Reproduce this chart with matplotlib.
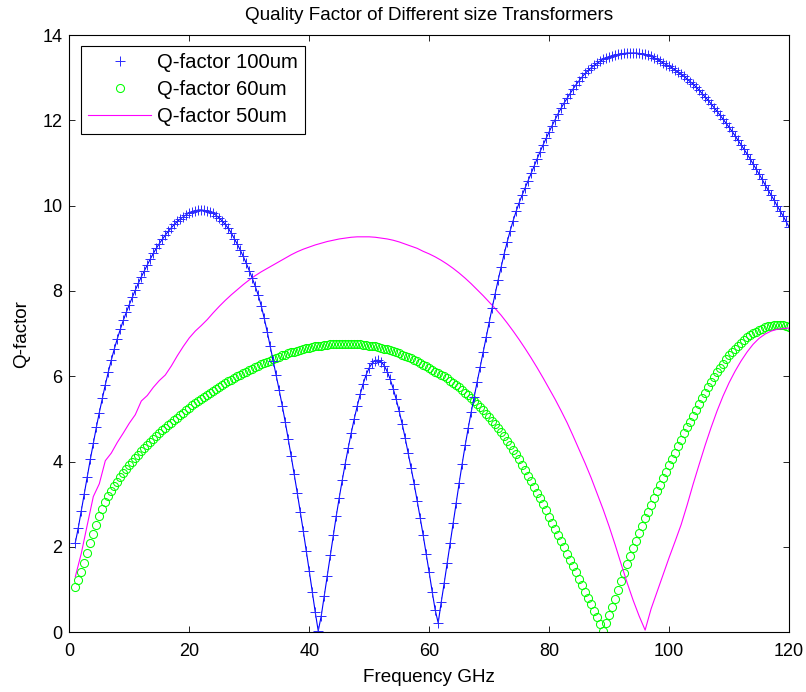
import numpy as np
import matplotlib
matplotlib.use("Agg")
import matplotlib.pyplot as plt

plt.rcParams['font.family'] = ['Liberation Sans', 'DejaVu Sans']

# frequency grid of the two marker series (GHz), 1 .. 120 step 0.5
freq = np.arange(1.0, 120.01, 0.5)
# frequency grid of the line-only series, 1 .. 120 step 1
freq50 = np.arange(1, 121)

q100 = [
    2.10, 2.45, 2.85, 3.25, 3.65, 4.05, 4.43, 4.80, 5.15, 5.48,      # 1.0 - 5.5
    5.80, 6.10, 6.38, 6.64, 6.88, 7.10, 7.31, 7.50, 7.68, 7.85,      # 6.0 - 10.5
    8.02, 8.18, 8.33, 8.47, 8.61, 8.75, 8.88, 9.00, 9.11, 9.21,      # 11 - 15.5
    9.31, 9.40, 9.48, 9.56, 9.63, 9.69, 9.74, 9.79, 9.83, 9.86,      # 16 - 20.5
    9.88, 9.90, 9.90, 9.89, 9.87, 9.85, 9.82, 9.77, 9.71, 9.64,      # 21 - 25.5
    9.56, 9.47, 9.36, 9.23, 9.10, 8.96, 8.81, 8.65, 8.48, 8.30,      # 26 - 30.5
    8.11, 7.90, 7.65, 7.36, 7.04, 6.70, 6.36, 6.02, 5.67, 5.31,      # 31 - 35.5
    4.93, 4.53, 4.12, 3.70, 3.27, 2.83, 2.38, 1.91, 1.44, 0.95,      # 36 - 40.5
    0.47, 0.03, 0.38, 0.85, 1.32, 1.80, 2.27, 2.72, 3.15, 3.56,      # 41 - 45.5
    3.95, 4.32, 4.67, 5.00, 5.30, 5.58, 5.83, 6.04, 6.20, 6.31,      # 46 - 50.5
    6.37, 6.38, 6.34, 6.25, 6.11, 5.93, 5.71, 5.46, 5.18, 4.88,      # 51 - 55.5
    4.55, 4.20, 3.84, 3.47, 3.08, 2.68, 2.27, 1.84, 1.40, 0.95,      # 56 - 60.5
    0.52, 0.22, 0.70, 1.15, 1.62, 2.09, 2.56, 3.03, 3.50, 3.95,      # 61 - 65.5
    4.38, 4.78, 5.16, 5.52, 5.87, 6.22, 6.57, 6.92, 7.27, 7.61,      # 66 - 70.5
    7.94, 8.26, 8.57, 8.87, 9.15, 9.41, 9.65, 9.87, 10.07, 10.25,    # 71 - 75.5
    10.42, 10.59, 10.76, 10.93, 11.10, 11.27, 11.43, 11.58, 11.73, 11.88,  # 76 - 80.5
    12.02, 12.16, 12.29, 12.41, 12.52, 12.63, 12.74, 12.84, 12.93, 13.02,  # 81 - 85.5
    13.10, 13.17, 13.23, 13.29, 13.34, 13.39, 13.43, 13.46, 13.49, 13.51,  # 86 - 90.5
    13.53, 13.55, 13.56, 13.57, 13.58, 13.58, 13.58, 13.58, 13.57, 13.56,  # 91 - 95.5
    13.55, 13.53, 13.50, 13.47, 13.43, 13.39, 13.35, 13.31, 13.27, 13.23,  # 96 - 100.5
    13.18, 13.13, 13.08, 13.03, 12.97, 12.91, 12.85, 12.78, 12.71, 12.63,  # 101 - 105.5
    12.55, 12.47, 12.39, 12.30, 12.21, 12.12, 12.03, 11.93, 11.84, 11.74,  # 106 - 110.5
    11.64, 11.53, 11.43, 11.32, 11.21, 11.10, 10.98, 10.86, 10.74, 10.62,  # 111 - 115.5
    10.49, 10.37, 10.25, 10.13, 10.00, 9.88, 9.76, 9.63, 9.50,             # 116 - 120
]

q60 = [
    1.05, 1.23, 1.42, 1.63, 1.85, 2.08, 2.30, 2.52, 2.72, 2.89,
    3.05, 3.19, 3.31, 3.42, 3.53, 3.63, 3.73, 3.82, 3.91, 4.00,
    4.08, 4.16, 4.24, 4.32, 4.39, 4.46, 4.53, 4.60, 4.66, 4.73,
    4.79, 4.85, 4.91, 4.97, 5.03, 5.09, 5.15, 5.21, 5.26, 5.32,
    5.37, 5.42, 5.47, 5.52, 5.57, 5.62, 5.66, 5.71, 5.75, 5.80,
    5.84, 5.88, 5.92, 5.96, 6.00, 6.04, 6.07, 6.11, 6.14, 6.18,
    6.21, 6.25, 6.28, 6.31, 6.34, 6.37, 6.40, 6.43, 6.46, 6.49,
    6.51, 6.54, 6.56, 6.58, 6.60, 6.62, 6.64, 6.66, 6.67, 6.69,
    6.70, 6.71, 6.72, 6.73, 6.74, 6.75, 6.75, 6.76, 6.76, 6.76,
    6.76, 6.76, 6.76, 6.76, 6.75, 6.75, 6.74, 6.73, 6.72, 6.71,
    6.70, 6.69, 6.67, 6.65, 6.63, 6.61, 6.59, 6.57, 6.54, 6.51,
    6.48, 6.45, 6.42, 6.39, 6.35, 6.31, 6.27, 6.23, 6.19, 6.15,
    6.11, 6.08, 6.04, 6.00, 5.95, 5.90, 5.85, 5.80, 5.74, 5.68,
    5.62, 5.56, 5.49, 5.42, 5.35, 5.28, 5.20, 5.12, 5.04, 4.96,
    4.87, 4.78, 4.69, 4.59, 4.49, 4.39, 4.28, 4.17, 4.05, 3.93,
    3.80, 3.67, 3.54, 3.41, 3.27, 3.14, 3.00, 2.86, 2.71, 2.57,
    2.42, 2.28, 2.13, 1.99, 1.84, 1.70, 1.55, 1.40, 1.25, 1.10,
    0.95, 0.80, 0.65, 0.50, 0.35, 0.20, 0.04, 0.21, 0.40, 0.60,
    0.79, 0.99, 1.19, 1.39, 1.59, 1.78, 1.97, 2.15, 2.33, 2.50,
    2.67, 2.83, 2.99, 3.15, 3.30, 3.46, 3.61, 3.76, 3.91, 4.06,
    4.21, 4.36, 4.51, 4.66, 4.80, 4.94, 5.08, 5.22, 5.35, 5.48,
    5.61, 5.74, 5.86, 5.98, 6.09, 6.20, 6.30, 6.40, 6.49, 6.57,
    6.65, 6.72, 6.79, 6.85, 6.91, 6.96, 7.01, 7.05, 7.09, 7.12,
    7.15, 7.17, 7.19, 7.20, 7.21, 7.21, 7.20, 7.18, 7.16,
]

q50 = [
    1.30, 1.85, 2.52, 3.18, 3.48, 4.02, 4.20, 4.45, 4.67, 4.90,      # 1 - 10
    5.10, 5.42, 5.55, 5.74, 5.90, 6.03, 6.24, 6.48, 6.70, 6.90,      # 11 - 20
    7.06, 7.19, 7.33, 7.49, 7.64, 7.78, 7.91, 8.03, 8.15, 8.26,      # 21 - 30
    8.36, 8.45, 8.53, 8.61, 8.69, 8.77, 8.85, 8.92, 8.98, 9.03,      # 31 - 40
    9.08, 9.12, 9.16, 9.19, 9.22, 9.24, 9.26, 9.27, 9.27, 9.27,      # 41 - 50
    9.26, 9.24, 9.22, 9.19, 9.15, 9.10, 9.05, 9.00, 8.93, 8.87,      # 51 - 60
    8.80, 8.72, 8.63, 8.53, 8.42, 8.30, 8.17, 8.03, 7.89, 7.74,      # 61 - 70
    7.59, 7.43, 7.25, 7.06, 6.86, 6.65, 6.43, 6.20, 5.96, 5.71,      # 71 - 80
    5.46, 5.19, 4.91, 4.60, 4.28, 3.96, 3.62, 3.25, 2.88, 2.48,      # 81 - 90
    2.05, 1.60, 1.16, 0.75, 0.38, 0.05, 0.55, 0.95, 1.35, 1.75,      # 91 - 100
    2.13, 2.52, 2.98, 3.47, 3.93, 4.38, 4.80, 5.19, 5.54, 5.85,      # 101 - 110
    6.12, 6.36, 6.57, 6.75, 6.89, 6.99, 7.06, 7.10, 7.12, 7.13,      # 111 - 120
]

labels = ['Q-factor 100um', 'Q-factor 60um', 'Q-factor 50um']

fig = plt.figure(figsize=(8.06, 6.92), dpi=100)
ax = fig.add_axes([0.086, 0.0864, 0.893, 0.8629])

h60, = ax.plot(freq, q60, linestyle='none', marker='o', markersize=5.8,
               markerfacecolor='none', markeredgecolor='#00ff00',
               markeredgewidth=0.75, label=labels[1])
h50, = ax.plot(freq50, q50, '-', color='#ff00ff', linewidth=0.8, label=labels[2])
ax.plot(freq, q100, '-', color='#0000ff', linewidth=0.8)
h100, = ax.plot(freq, q100, linestyle='none', marker='+', markersize=6.5,
                markeredgecolor='#2a2aff', markeredgewidth=0.7, label=labels[0])

ax.set_xlim(0, 120)
ax.set_ylim(0, 14)
ax.set_xticks(np.arange(0, 121, 20))
ax.set_yticks(np.arange(0, 15, 2))
ax.tick_params(direction='in', length=4, width=0.6, top=True, right=True,
               labelsize=13)
ax.tick_params(axis='x', pad=7.5)
ax.tick_params(axis='y', pad=5)
for s in ax.spines.values():
    s.set_linewidth(0.8)

ax.set_title('Quality Factor of Different size Transformers', fontsize=13.6, pad=11)
ax.set_xlabel('Frequency GHz', fontsize=13.6, labelpad=7)
ax.set_ylabel('Q-factor', fontsize=13.6, labelpad=9)

leg = ax.legend([h100, h60, h50], labels, loc='upper left',
                bbox_to_anchor=(11.7 / 720, 1 - 11 / 597), borderaxespad=0,
                fontsize=14.6, handlelength=3.1, handletextpad=0.3,
                borderpad=0.35, labelspacing=0.4, fancybox=False,
                framealpha=1, edgecolor='black')
leg.get_frame().set_linewidth(0.8)

fig.savefig('out.png', dpi=100)
